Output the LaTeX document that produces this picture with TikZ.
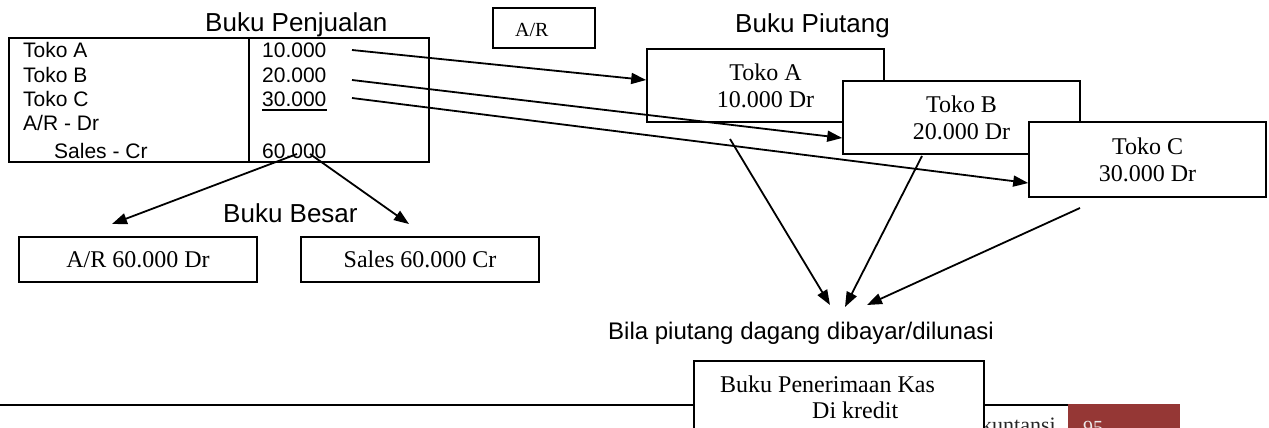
\documentclass[tikz,border=0pt]{standalone}
\usepackage{fontspec}
\setmainfont{Liberation Serif}
\newfontfamily\arialfont{Liberation Sans}
\usetikzlibrary{arrows.meta,calc}
\definecolor{pagered}{RGB}{149,55,53}

\begin{document}
\begin{tikzpicture}[x=1pt,y=-1pt,
  box/.style={draw=black, line width=1.6pt, fill=white, inner sep=0pt},
  serifbig/.style={font=\fontsize{24}{27}\selectfont},
  sansrow/.style={font=\arialfont\fontsize{21}{25}\selectfont},
  heading/.style={font=\arialfont\fontsize{26}{30}\selectfont},
  txt/.style={inner sep=0pt, anchor=base west},
  link/.style={line width=1.8pt, -{Triangle[length=15pt,width=11pt]}},
]
\useasboundingbox (0,0) rectangle (1269,428);
\clip (0,0) rectangle (1269,428);
\fill[white] (0,0) rectangle (1269,428);

% ---------- Buku Penjualan (sales journal) ----------
\node[txt, heading] (hjual) at (205,32) {Buku Penjualan};
\node[box, minimum width=420pt, minimum height=124pt] (jual) at (219,100) {};
\draw[line width=1.6pt] ([xshift=241pt]jual.north west) -- ([xshift=241pt]jual.south west);

\node[txt, sansrow] (r1) at (23,58) {Toko A};
\node[txt, sansrow] (r2) at (23,82.5) {Toko B};
\node[txt, sansrow] (r3) at (23,106.5) {Toko C};
\node[txt, sansrow] (r4) at (23,130.5) {A/R - Dr};
\node[txt, sansrow] (r5) at (54,158) {Sales - Cr};

\node[txt, sansrow] (n1) at (262,58) {10.000};
\node[txt, sansrow] (n2) at (262,82.5) {20.000};
\node[txt, sansrow] (n3) at (262,106.5) {30.000};
\node[txt, sansrow] (n5) at (262,158) {60.000};
\draw[line width=1.3pt] ([yshift=-3.5pt]n3.base west) -- ([yshift=-3.5pt]n3.base east);

% ---------- A/R tag ----------
\node[box, minimum width=102pt, minimum height=40pt] (arbox) at (544,28) {};
\node[txt, font=\fontsize{20}{24}\selectfont] (artxt) at (515,37) {A/R};

% ---------- Buku Piutang (receivables ledger) ----------
\node[txt, heading] (hpiutang) at (735,33) {Buku Piutang};
\node[box, serifbig, align=center, minimum width=237pt, minimum height=73pt] (tokoA) at (765.5,85.5) {Toko A\\10.000 Dr};
\node[box, serifbig, align=center, minimum width=237pt, minimum height=73pt] (tokoB) at (961.5,117.5) {Toko B\\20.000 Dr};
\node[box, serifbig, align=center, minimum width=237pt, minimum height=75pt] (tokoC) at (1147.5,159.5) {Toko C\\30.000 Dr};

% ---------- Buku Besar (general ledger) ----------
\node[txt, heading] (hbesar) at (223,222) {Buku Besar};
\node[box, serifbig, minimum width=238pt, minimum height=45pt] (arled) at (138,259.5) {A/R 60.000 Dr};
\node[box, serifbig, minimum width=238pt, minimum height=45pt] (salesled) at (420,259.5) {Sales 60.000 Cr};

% ---------- posting arrows ----------
\coordinate (s1) at (352,50);
\coordinate (s2) at (352,80);
\coordinate (s3) at (352,98);
\draw[link] (s1) -- ([yshift=5.5pt]tokoA.west);
\draw[link] (s2) -- ([yshift=-20.5pt]tokoB.west);
\draw[link] (s3) -- ([yshift=-23.5pt]tokoC.west);

\coordinate (b1) at (297,154);
\coordinate (b2) at (310,154);
\coordinate (t1) at (112,224);
\coordinate (t2) at (409,224);
\draw[link] (b1) -- (t1);
\draw[link] (b2) -- (t2);

\coordinate (p1) at (730,139);
\coordinate (p2) at (922,156);
\coordinate (p3) at (1080,208);
\coordinate (q1) at (830,305);
\coordinate (q2) at (845,307);
\coordinate (q3) at (867,305);
\draw[link] (p1) -- (q1);
\draw[link] (p2) -- (q2);
\draw[link] (p3) -- (q3);

\node[txt, font=\arialfont\fontsize{24}{28}\selectfont] (bila) at (608,339) {Bila piutang dagang dibayar/dilunasi};

% ---------- page footer ----------
\coordinate (f0) at (0,405);
\coordinate (f1) at (1068,405);
\draw[line width=1.5pt] (f0) -- (f1);
\node[txt, font=\fontsize{22}{26}\selectfont, text=black!85] (akun) at (981,432) {kuntansi};
\node[fill=pagered, inner sep=0pt, minimum width=112pt, minimum height=40pt, anchor=north west] (pagebox) at (1068,404) {};
\node[txt, font=\fontsize{20}{24}\selectfont, text=white!92!black] (pg) at (1083,434) {95};

% ---------- Buku Penerimaan Kas (cash receipts journal) ----------
\node[box, minimum width=290pt, minimum height=100pt, anchor=north west] (kas) at (693,360) {};
\node[txt, serifbig] (kas1) at (720,392) {Buku Penerimaan Kas};
\node[txt, serifbig] (kas2) at (812,418) {Di kredit};
\end{tikzpicture}
\end{document}
